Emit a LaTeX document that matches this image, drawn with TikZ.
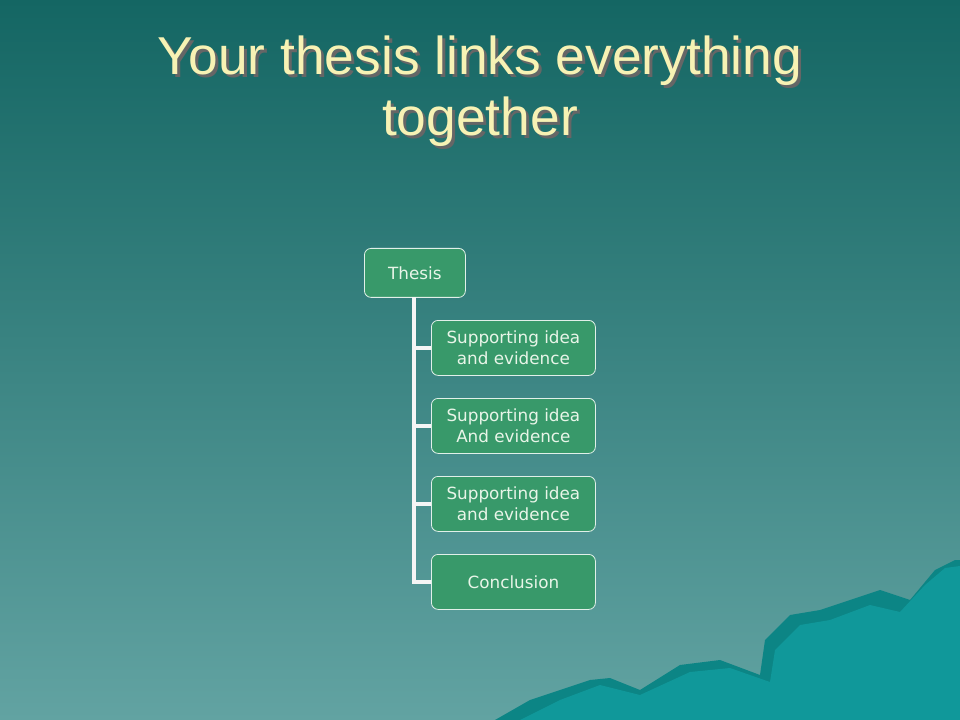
\documentclass[tikz,border=0pt]{standalone}
\usepackage{fontspec}
\setmainfont{Liberation Sans}
\newfontfamily\boxfont{DejaVu Sans}
\definecolor{bgtop}{HTML}{146663}
\definecolor{bgbot}{HTML}{62A3A2}
\definecolor{boxg}{HTML}{38996A}
\definecolor{mount}{HTML}{10989A}
\definecolor{mountd}{HTML}{0C8585}
\definecolor{titlec}{HTML}{F7F2B4}
\definecolor{txtc}{HTML}{E8F5E8}
\tikzset{
 bx/.style={draw=white!85!boxg, line width=0.6pt, fill=boxg, rounded corners=5pt, text=txtc, font=\boxfont\fontsize{12.6}{15.8}\selectfont, align=center, anchor=north west, inner sep=0pt},
 conn/.style={draw=white!92!gray, line width=3.6pt},
 ttl/.style={font=\fontsize{40}{46}\selectfont, align=center}
}
\begin{document}
\begin{tikzpicture}[x=0.75pt,y=-0.75pt]
\useasboundingbox (0,0) rectangle (960,720);
\shade[top color=bgtop,bottom color=bgbot] (0,0) rectangle (960,720);
\fill[mountd] (495,720) -- (530,700) -- (560,690) -- (590,680) -- (610,678) -- (640,690) -- (680,665) -- (720,660) -- (760,675) -- (765,640) -- (790,615) -- (820,610) -- (850,600) -- (880,590) -- (910,600) -- (935,570) -- (955,560) -- (960,560) -- (960,720) -- cycle;
\fill[mount] (520,720) -- (560,700) -- (600,685) -- (640,695) -- (690,672) -- (730,668) -- (770,682) -- (775,650) -- (800,625) -- (830,620) -- (870,605) -- (900,612) -- (925,585) -- (945,568) -- (960,566) -- (960,720) -- cycle;
\node[ttl, text=black!60] (shadow) at (483,94) {Your thesis links everything\\together};
\node[ttl, text=titlec] (title) at (480,91) {Your thesis links everything\\together};
\node[bx, minimum width=101*0.75pt, minimum height=49*0.75pt] (t) at (364,248) {Thesis};
\node[bx, minimum width=164*0.75pt, minimum height=55*0.75pt] (a) at (431,320) {Supporting idea\\ and evidence};
\node[bx, minimum width=164*0.75pt, minimum height=55*0.75pt] (b) at (431,398) {Supporting idea\\And evidence};
\node[bx, minimum width=164*0.75pt, minimum height=55*0.75pt] (c) at (431,476) {Supporting idea\\ and evidence};
\node[bx, minimum width=164*0.75pt, minimum height=55*0.75pt] (d) at (431,554) {Conclusion};
\coordinate (s) at (414,297.5);
\draw[conn] (s) |- (d.west);
\foreach \n in {a,b,c} \draw[conn] (s |- \n.west) -- (\n.west);
\end{tikzpicture}
\end{document}
